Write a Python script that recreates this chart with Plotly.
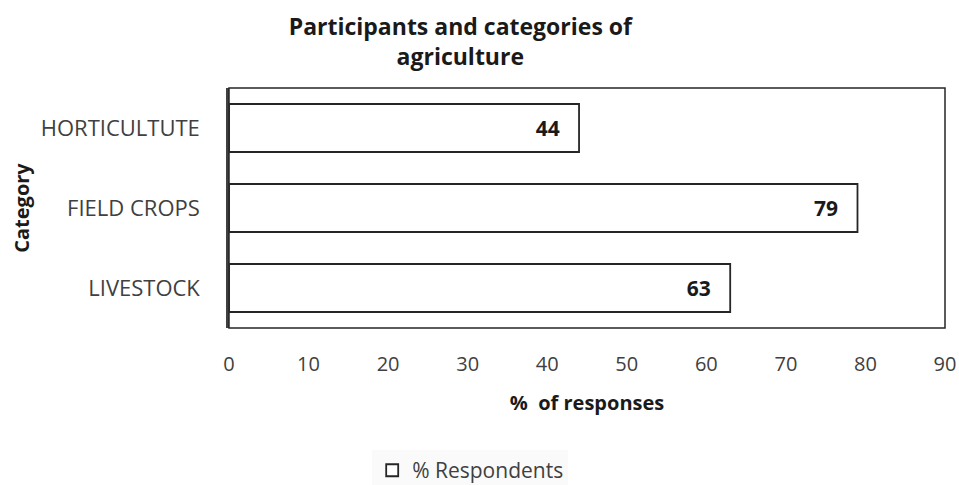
import plotly.graph_objects as go

categories = ["LIVESTOCK", "FIELD CROPS", "HORTICULTUTE"]
values = [63, 79, 44]
series_name = "% Respondents"
x_ticks = [0, 10, 20, 30, 40, 50, 60, 70, 80, 90]

FONT = "Open Sans, Noto Sans, Arial, sans-serif"
PAD = "\u00a0\u00a0\u00a0"

fig = go.Figure()
fig.add_trace(go.Bar(
    y=categories, x=values, orientation="h", name=series_name,
    marker=dict(color="white", line=dict(color="#262626", width=1.8)),
    text=[f"<b>{v}</b>{PAD}" for v in values], textposition="inside",
    insidetextanchor="end", textfont=dict(size=21, color="#1a1a1a", family=FONT),
    showlegend=True,
))

fig.update_layout(
    width=959, height=485,
    margin=dict(l=229, r=14, t=88, b=157),
    paper_bgcolor="white", plot_bgcolor="white",
    font=dict(family=FONT, size=20, color="#404040"),
    bargap=0.4,
    uniformtext=dict(minsize=10, mode="show"),
    title=dict(text="<b>Participants and categories of<br>agriculture</b>",
               x=0.48, xanchor="center", yref="paper", y=1, yanchor="bottom",
               pad=dict(b=53),
               font=dict(size=23, color="#1a1a1a", family=FONT)),
    xaxis=dict(range=[0, 90], tickvals=x_ticks, showgrid=False, zeroline=False,
               showline=False, ticks="", ticklabelstandoff=22, automargin="bottom",
               tickfont=dict(size=20, color="#404040"),
               title=dict(text="<b>%  of responses</b>", standoff=19,
                          font=dict(size=20, color="#1a1a1a"))),
    yaxis=dict(showgrid=False, zeroline=False, showline=True, linecolor="#404040",
               linewidth=2.5, ticks="", ticklabelstandoff=22,
               tickfont=dict(size=22, color="#404040"),
               title=dict(text="<b>Category</b>", standoff=6,
                          font=dict(size=20, color="#1a1a1a"))),
    legend=dict(orientation="h", x=0.2, xanchor="left",
                yref="container", y=0.072, yanchor="top",
                bgcolor="#fafafa", font=dict(size=21, color="#404040"),
                itemwidth=30),
    shapes=[dict(type="rect", xref="paper", yref="paper", x0=0, x1=1, y0=0, y1=1,
                 line=dict(color="#262626", width=1.5))],
)

fig.write_html("out.html")
